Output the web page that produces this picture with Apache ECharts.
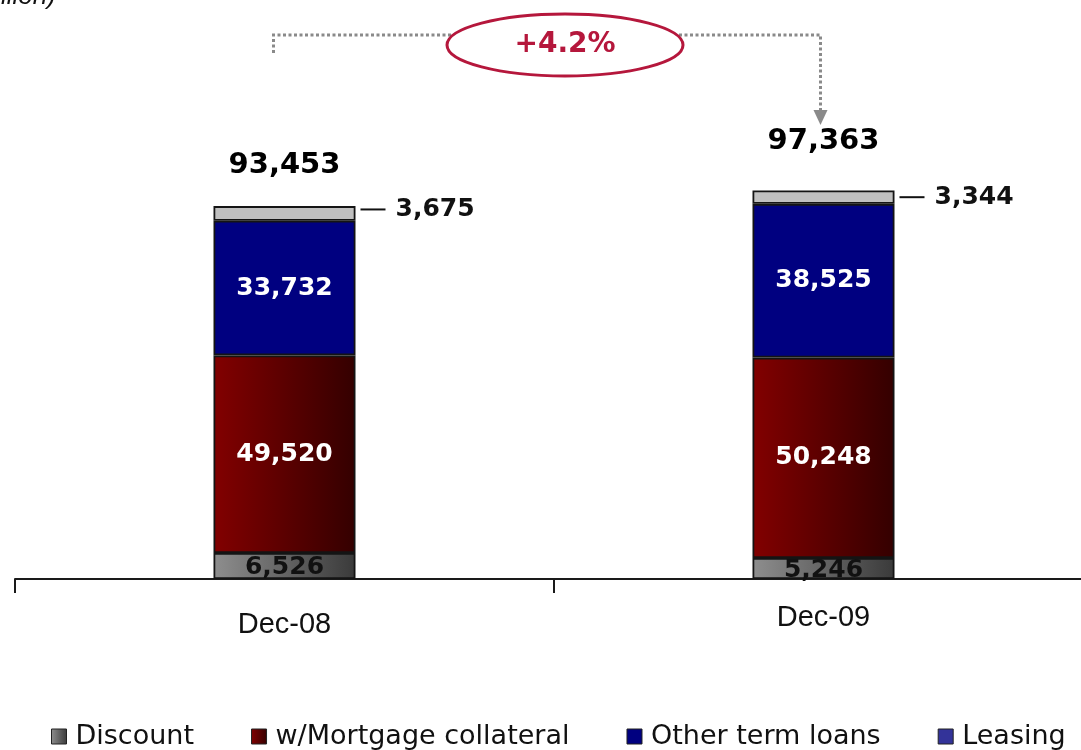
<!DOCTYPE html>
<html>
<head>
<meta charset="utf-8">
<script src="https://cdn.jsdelivr.net/npm/echarts@6/dist/echarts.min.js"></script>
<style>
  html, body { margin: 0; padding: 0; background: #fff; }
  #chart { width: 1081px; height: 750px; }
</style>
</head>
<body>
<div id="chart"></div>
<script>
// Loan portfolio by type, Ps. million
const periods = ['Dec-08', 'Dec-09'];
const discount = [6526, 5246];
const mortgage = [49520, 50248];
const otherTerm = [33732, 38525];
const leasing = [3675, 3344];
const totals = [93453, 97363];
const growthLabel = '+4.2%';
const seriesNames = ['Discount', 'w/Mortgage collateral', 'Other term loans', 'Leasing'];

const FONT = 'DejaVu Sans';
const fmt = v => v.toLocaleString('en-US');

const chart = echarts.init(document.getElementById('chart'), null, { renderer: 'canvas' });

const border = { borderColor: '#141414', borderWidth: 1.8 };

function barSeries(name, data, color, label) {
  return {
    name: name,
    type: 'bar',
    stack: 'loans',
    barWidth: 142,
    data: data,
    itemStyle: Object.assign({ color: color }, border),
    label: label,
    emphasis: { disabled: true }
  };
}

const insideLabel = (color) => ({
  show: true,
  position: 'inside',
  color: color,
  fontFamily: FONT,
  fontWeight: 'bold',
  fontSize: 25,
  formatter: p => fmt(p.value)
});

const option = {
  animation: false,
  backgroundColor: '#ffffff',
  grid: { left: 15, top: 180, width: 1078, height: 399, containLabel: false, outerBoundsMode: 'none' },
  xAxis: {
    type: 'category',
    data: periods,
    axisLine: { lineStyle: { color: '#1a1a1a', width: 2 } },
    axisTick: { show: true, length: 14, lineStyle: { color: '#1a1a1a', width: 2 } },
    axisLabel: {
      margin: 24,
      color: '#111',
      fontFamily: 'Liberation Sans',
      fontSize: 29,
      formatter: (v, i) => (i === 0 ? '{a|' + v + '}' : '{b|' + v + '}'),
      rich: {
        a: { fontFamily: 'Liberation Sans', fontSize: 29, color: '#111', padding: [7, 0, 0, 0] },
        b: { fontFamily: 'Liberation Sans', fontSize: 29, color: '#111', padding: [0, 0, 0, 0] }
      }
    }
  },
  yAxis: { type: 'value', min: 0, max: 100000, show: false, splitLine: { show: false } },
  legend: {
    data: [
      { name: seriesNames[0] },
      { name: seriesNames[1] },
      { name: seriesNames[2] },
      { name: seriesNames[3], itemStyle: { color: '#333399' } }
    ],
    left: 46,
    top: 718,
    icon: 'rect',
    itemWidth: 15,
    itemHeight: 15,
    itemGap: 57,
    itemStyle: { borderColor: '#222', borderWidth: 1 },
    textStyle: { fontFamily: FONT, fontSize: 27, color: '#111', padding: [0, 0, 0, 4] },
    selectedMode: false
  },
  series: [
    barSeries(seriesNames[0], discount,
      new echarts.graphic.LinearGradient(0, 0, 1, 0, [
        { offset: 0, color: '#8e8e8e' }, { offset: 1, color: '#3a3a3a' }
      ]),
      Object.assign(insideLabel('#111'), { offset: [0, 2] })),
    barSeries(seriesNames[1], mortgage,
      new echarts.graphic.LinearGradient(0, 0, 1, 0, [
        { offset: 0, color: '#820000' }, { offset: 1, color: '#340000' }
      ]),
      insideLabel('#ffffff')),
    barSeries(seriesNames[2], otherTerm, '#000080', insideLabel('#ffffff')),
    Object.assign(barSeries(seriesNames[3], leasing.map((v, i) => ({
      value: v,
      label: { offset: i === 0 ? [0, -4] : [0, 0] }
    })), '#c0c0c0', {
      show: true,
      position: 'right',
      distance: 5,
      formatter: p => '{ln|}{v|' + fmt(p.value) + '}',
      rich: {
        ln: { width: 25, height: 2, backgroundColor: '#111', verticalAlign: 'middle' },
        v: { fontFamily: FONT, fontWeight: 'bold', fontSize: 25, color: '#111', padding: [0, 0, 0, 10], verticalAlign: 'middle' }
      }
    })),
    {
      name: 'Total',
      type: 'scatter',
      symbolSize: 0,
      silent: true,
      itemStyle: { color: '#000', opacity: 1 },
      data: totals.map((v, i) => ({
        value: v,
        label: { distance: i === 0 ? 26 : 35 }
      })),
      label: {
        show: true,
        position: 'top',
        fontFamily: FONT,
        fontWeight: 'bold',
        fontSize: 29,
        color: '#000',
        opacity: 1,
        formatter: p => fmt(p.value)
      }
    }
  ]
};

chart.setOption(option);

// Growth annotation: dotted connector from the first period to the second, with a ringed label
const x0 = chart.convertToPixel({ xAxisIndex: 0 }, periods[0]) - 11;
const x1 = chart.convertToPixel({ xAxisIndex: 0 }, periods[1]) - 3;
const lineY = 35;
const dotted = { stroke: '#8a8a8a', lineWidth: 3, lineDash: [3, 2.5], fill: null };
const accent = '#b5173c';
const cx = (x0 + x1) / 2 + 18;

chart.setOption({
  graphic: [
    {
      type: 'text',
      left: -80,
      top: -16,
      style: {
        text: '(Ps. million)',
        font: 'italic 26px "Liberation Sans"',
        fill: '#111'
      }
    },
    {
      type: 'polyline',
      shape: { points: [[x0, 53], [x0, lineY], [x1, lineY], [x1, 111]] },
      style: dotted,
      z: 1
    },
    {
      type: 'polygon',
      shape: { points: [[x1 - 7, 110], [x1 + 7, 110], [x1, 125]] },
      style: { fill: '#8a8a8a' },
      z: 1
    },
    {
      type: 'ellipse',
      shape: { cx: cx, cy: 45, rx: 118, ry: 31 },
      style: { fill: '#ffffff', stroke: accent, lineWidth: 3 },
      z: 2
    },
    {
      type: 'text',
      x: cx,
      y: 45,
      style: {
        text: growthLabel,
        font: 'bold 28px "DejaVu Sans"',
        fill: accent,
        align: 'center',
        verticalAlign: 'middle'
      },
      z: 3
    }
  ]
});
</script>
</body>
</html>
